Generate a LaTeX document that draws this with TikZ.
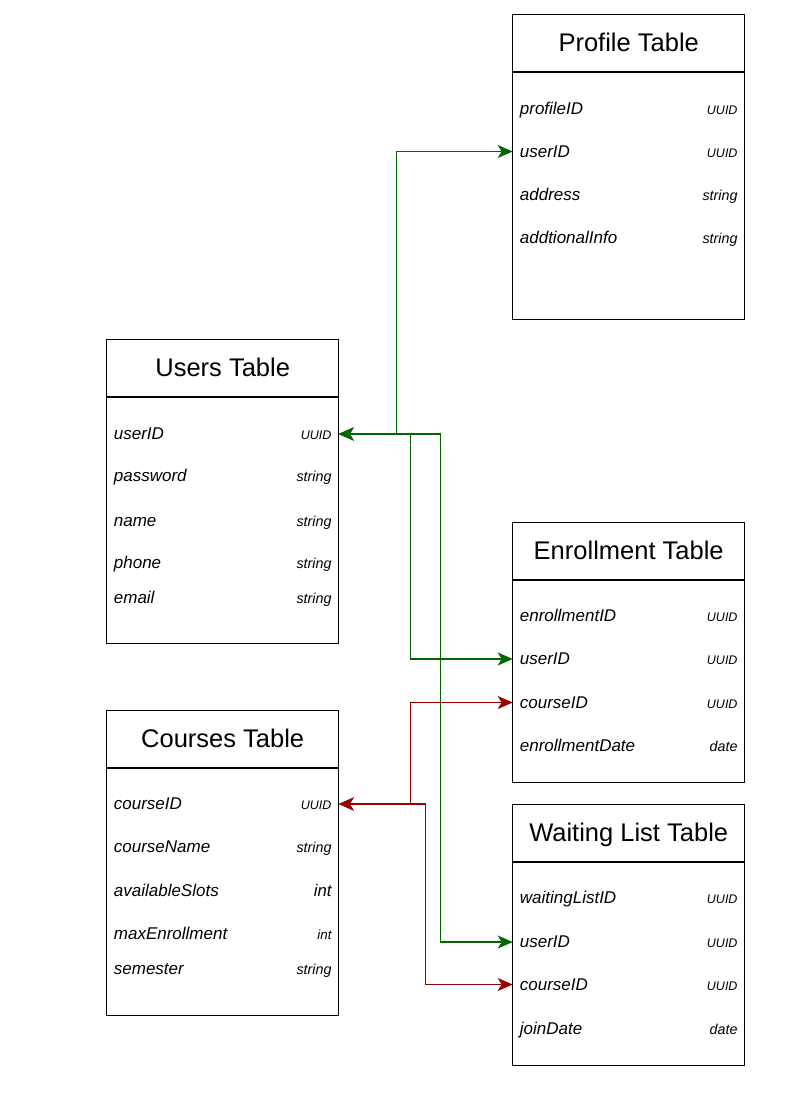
\documentclass[tikz,border=0pt]{standalone}
\usepackage{fontspec}
\setmainfont{Liberation Sans}
\usetikzlibrary{arrows.meta}

\definecolor{fkgreen}{RGB}{0,102,0}
\definecolor{fkred}{RGB}{153,0,0}

\tikzset{
  tbl/.style={draw, line width=1.4pt, minimum width=232, inner sep=0, anchor=north west},
  ttl/.style={anchor=base, inner sep=0, font=\fontsize{25.5}{30}\selectfont},
  fld/.style={anchor=base west, inner sep=0, font=\fontsize{17}{20}\selectfont\itshape},
  typ/.style={anchor=base east, inner sep=0, font=\fontsize{14.3}{17}\selectfont\itshape},
  uuid/.style={typ, font=\fontsize{12.5}{15}\selectfont\itshape},
  rowbox/.style={minimum width=232, minimum height=0, inner sep=0, outer sep=0},
  fk/.style={line width=1.5pt, {Stealth[length=15pt,width=13pt,inset=4pt]}-{Stealth[length=15pt,width=13pt,inset=4pt]}},
}

% one field of a table: [type style] {table} {key} {offset} {name} {type}
\newcommand{\tblrow}[6][typ]{%
  \node[rowbox] (#2-#3) at ([yshift=-#4]#2.north) {};
  \node[fld] (#2-#3-name) at ([xshift=7, yshift=-5.5]#2-#3.west) {#5};
  \node[#1] (#2-#3-type) at ([xshift=-7, yshift=-5.5]#2-#3.east) {#6};
}

% table box with title and header line
\newcommand{\tblbox}[5]{%
  \node[tbl, minimum height=#4] (#1) at (#2,#3) {};
  \node[ttl] (#1-title) at ([yshift=-37]#1.north) {#5};
  \draw[line width=1.4pt] ([yshift=-58]#1.north west) -- ([yshift=-58]#1.north east);
}

\begin{document}
\begin{tikzpicture}[x=1pt, y=-1pt]
  \useasboundingbox (0,0) rectangle (807,1093);

  % Profile
  \tblbox{pro}{512}{14}{305}{Profile Table}
  \tblrow[uuid]{pro}{profileID}{94.5}{profileID}{UUID}
  \tblrow[uuid]{pro}{userID}{137.5}{userID}{UUID}
  \tblrow{pro}{address}{180.5}{address}{string}
  \tblrow{pro}{info}{224}{addtionalInfo}{string}

  % Users
  \tblbox{usr}{106}{339}{304}{Users Table}
  \tblrow[uuid]{usr}{userID}{95}{userID}{UUID}
  \tblrow{usr}{password}{137}{password}{string}
  \tblrow{usr}{name}{181.5}{name}{string}
  \tblrow{usr}{phone}{224}{phone}{string}
  \tblrow{usr}{email}{259}{email}{string}

  % Enrollment
  \tblbox{enr}{512}{522}{260}{Enrollment Table}
  \tblrow[uuid]{enr}{enrollmentID}{93.5}{enrollmentID}{UUID}
  \tblrow[uuid]{enr}{userID}{137}{userID}{UUID}
  \tblrow[uuid]{enr}{courseID}{180.5}{courseID}{UUID}
  \tblrow{enr}{date}{223.5}{enrollmentDate}{date}

  % Courses
  \tblbox{crs}{106}{710}{305}{Courses Table}
  \tblrow[uuid]{crs}{courseID}{94}{courseID}{UUID}
  \tblrow{crs}{courseName}{137}{courseName}{string}
  \tblrow[typ, font=\fontsize{16.7}{20}\selectfont\itshape]{crs}{slots}{180.5}{availableSlots}{int}
  \tblrow[typ, font=\fontsize{13.3}{16}\selectfont\itshape]{crs}{max}{224}{maxEnrollment}{int}
  \tblrow{crs}{semester}{259}{semester}{string}

  % Waiting list
  \tblbox{wai}{512}{804}{261}{Waiting List Table}
  \tblrow[uuid]{wai}{waitingListID}{94}{waitingListID}{UUID}
  \tblrow[uuid]{wai}{userID}{138}{userID}{UUID}
  \tblrow[uuid]{wai}{courseID}{180.5}{courseID}{UUID}
  \tblrow{wai}{joinDate}{225}{joinDate}{date}

  % foreign keys
  \draw[fk, fkgreen] (usr-userID.east) -- ++(58,0) |- (pro-userID.west);
  \draw[fk, fkgreen] (usr-userID.east) -- ++(72,0) |- (enr-userID.west);
  \draw[fk, fkgreen] (usr-userID.east) -- ++(102,0) |- (wai-userID.west);
  \draw[fk, fkred] (crs-courseID.east) -- ++(72,0) |- (enr-courseID.west);
  \draw[fk, fkred] (crs-courseID.east) -- ++(87,0) |- (wai-courseID.west);
\end{tikzpicture}
\end{document}
